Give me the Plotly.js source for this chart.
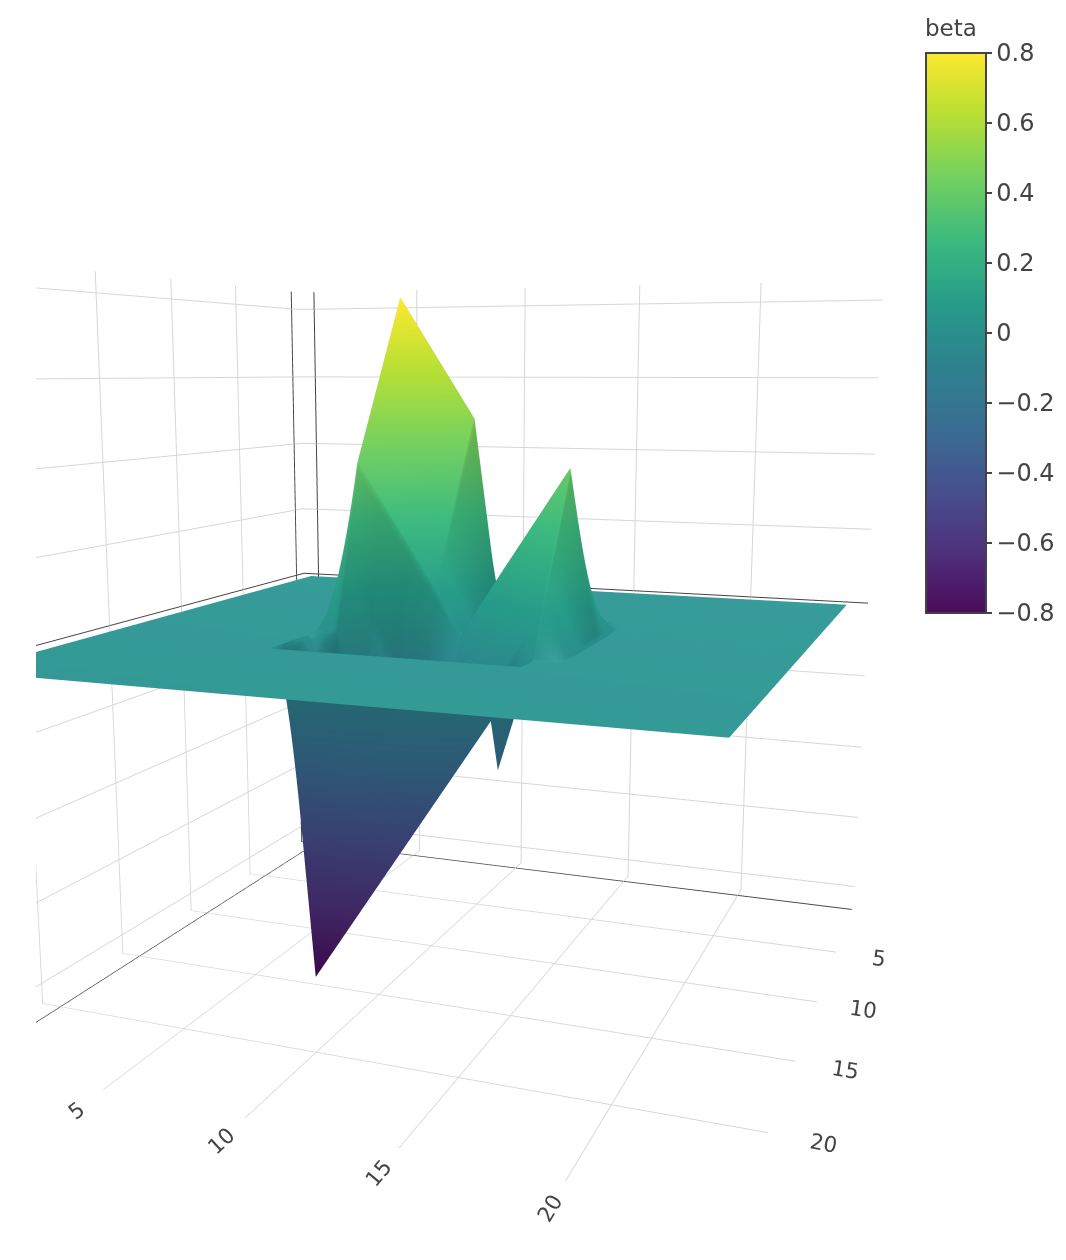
<!DOCTYPE html>
<html><head><meta charset="utf-8">
<script src="https://cdn.plot.ly/plotly-3.0.1.min.js"></script>
<style>html,body{margin:0;padding:0;background:#fff}</style></head>
<body><div id="chart" style="width:1066px;height:1260px"></div>
<script>
var xValues=[0,6,7,8,9,10,11,12,13,14,15,16,17,18,24];
var yValues=[0,6,7,8,9,10,11,12,13,14,14.6,14.85,16,17,18,24];
var tickValues=[5,10,15,20];
var zeros=[0,0,0,0,0,0,0,0,0,0,0,0,0,0,0];
var rowY8  =[0,0,0,0.8,0.7,0.6,0.5,0.4,0.2,0,-0.4,-0.8,0,0,0];
var rowY9  =[0,0,0,0.7,0.6,0.5,0.4,0.3,0.02,-0.2,-0.45,-0.7,0,0,0];
var rowY10 =[0,0,0,0.6,0.5,0.4,0.3,0.2,-0.1,-0.25,-0.4,-0.6,0,0,0];
var rowY11 =[0,0,0,0.5,0.4,0.3,0.2,0.1,-0.15,-0.25,-0.35,-0.5,0,0,0];
var rowY12 =[0,0,0,0.02,0.015,0.01,0.005,0,-0.12,-0.2,-0.3,-0.4,0,0,0];
var rowY13 =[0,0,0,0,0.01,0.03,0.06,0.1,0,-0.1,-0.2,-0.3,0,0,0];
var rowY14 =[0,0,0,0,0.02,0.06,0.12,0.2,0.1,0,-0.1,-0.2,0,0,0];
var rowY146=[0,0,0,0,0.02,0.065,0.13,0.26,0.16,0.06,-0.04,-0.14,0,0,0];
var rowY148=[0,0,0,0,0.03,0.08,0.17,0.285,0.185,0.085,-0.015,-0.25,0,0,0];
var rowY16 =[0,0,0,0,0.03,0.1,0.23,0.4,0.3,0.2,0.1,0,0,0,0];
var zValues=[zeros,zeros,zeros,rowY8,rowY9,rowY10,rowY11,rowY12,rowY13,rowY14,rowY146,rowY148,rowY16,zeros,zeros,zeros];
var colorStops=[[0,'rgb(75,11,91)'],[0.1111,'rgb(79,49,125)'],[0.2222,'rgb(70,80,142)'],[0.3333,'rgb(57,110,147)'],[0.4444,'rgb(45,130,142)'],[0.5556,'rgb(38,156,137)'],[0.6667,'rgb(61,186,126)'],[0.7778,'rgb(116,208,95)'],[0.8889,'rgb(184,223,51)'],[1,'rgb(253,232,46)']];
var font='"DejaVu Sans", sans-serif';
var ax={tickfont:{family:font,size:16,color:'#444'},title:{text:''},gridcolor:'rgb(214,214,214)',gridwidth:2,showline:false,zeroline:true,zerolinecolor:'#444',zerolinewidth:2,tickmode:'array',tickvals:tickValues,ticks:'outside',tickcolor:'rgba(255,255,255,0)'};
var data=[{type:'surface',x:xValues,y:yValues,z:zValues,colorscale:colorStops,cmin:-0.8,cmax:0.8,
 colorbar:{thickness:60,thicknessmode:'pixels',len:560,lenmode:'pixels',
  x:926/1066,xanchor:'left',xpad:0,y:1-53/1260,yanchor:'top',ypad:0,outlinewidth:2,outlinecolor:'#444',borderwidth:0,
  ticks:'outside',ticklen:5,tickwidth:2,tickcolor:'#444',tickmode:'linear',tick0:0,dtick:0.2,tickfont:{family:font,size:24,color:'#444'}}}];
var layout={width:1066,height:1260,margin:{l:0,r:0,t:0,b:0},paper_bgcolor:'#fff',showlegend:false,
 annotations:[{text:'beta',xref:'paper',yref:'paper',x:923/1066,y:1-28/1260,xanchor:'left',yanchor:'middle',showarrow:false,font:{family:font,size:23,color:'#444'}}],
 scene:{domain:{x:[36/1066,886/1066],y:[0,1-8/1260]},
  camera:{eye:{x:1.947,y:0.752,z:0.363},center:{x:0,y:0,z:0},up:{x:0,y:0,z:1}},
  aspectmode:'cube',
  xaxis:Object.assign({},ax,{ticklen:15}),
  yaxis:Object.assign({},ax,{ticklen:19}),
  zaxis:Object.assign({},ax,{tickmode:'linear',tick0:0,dtick:0.2,tickvals:null,range:[-0.85,0.85],showticklabels:false,ticks:''})}};
Plotly.newPlot('chart',data,layout,{displayModeBar:false});
</script></body></html>
